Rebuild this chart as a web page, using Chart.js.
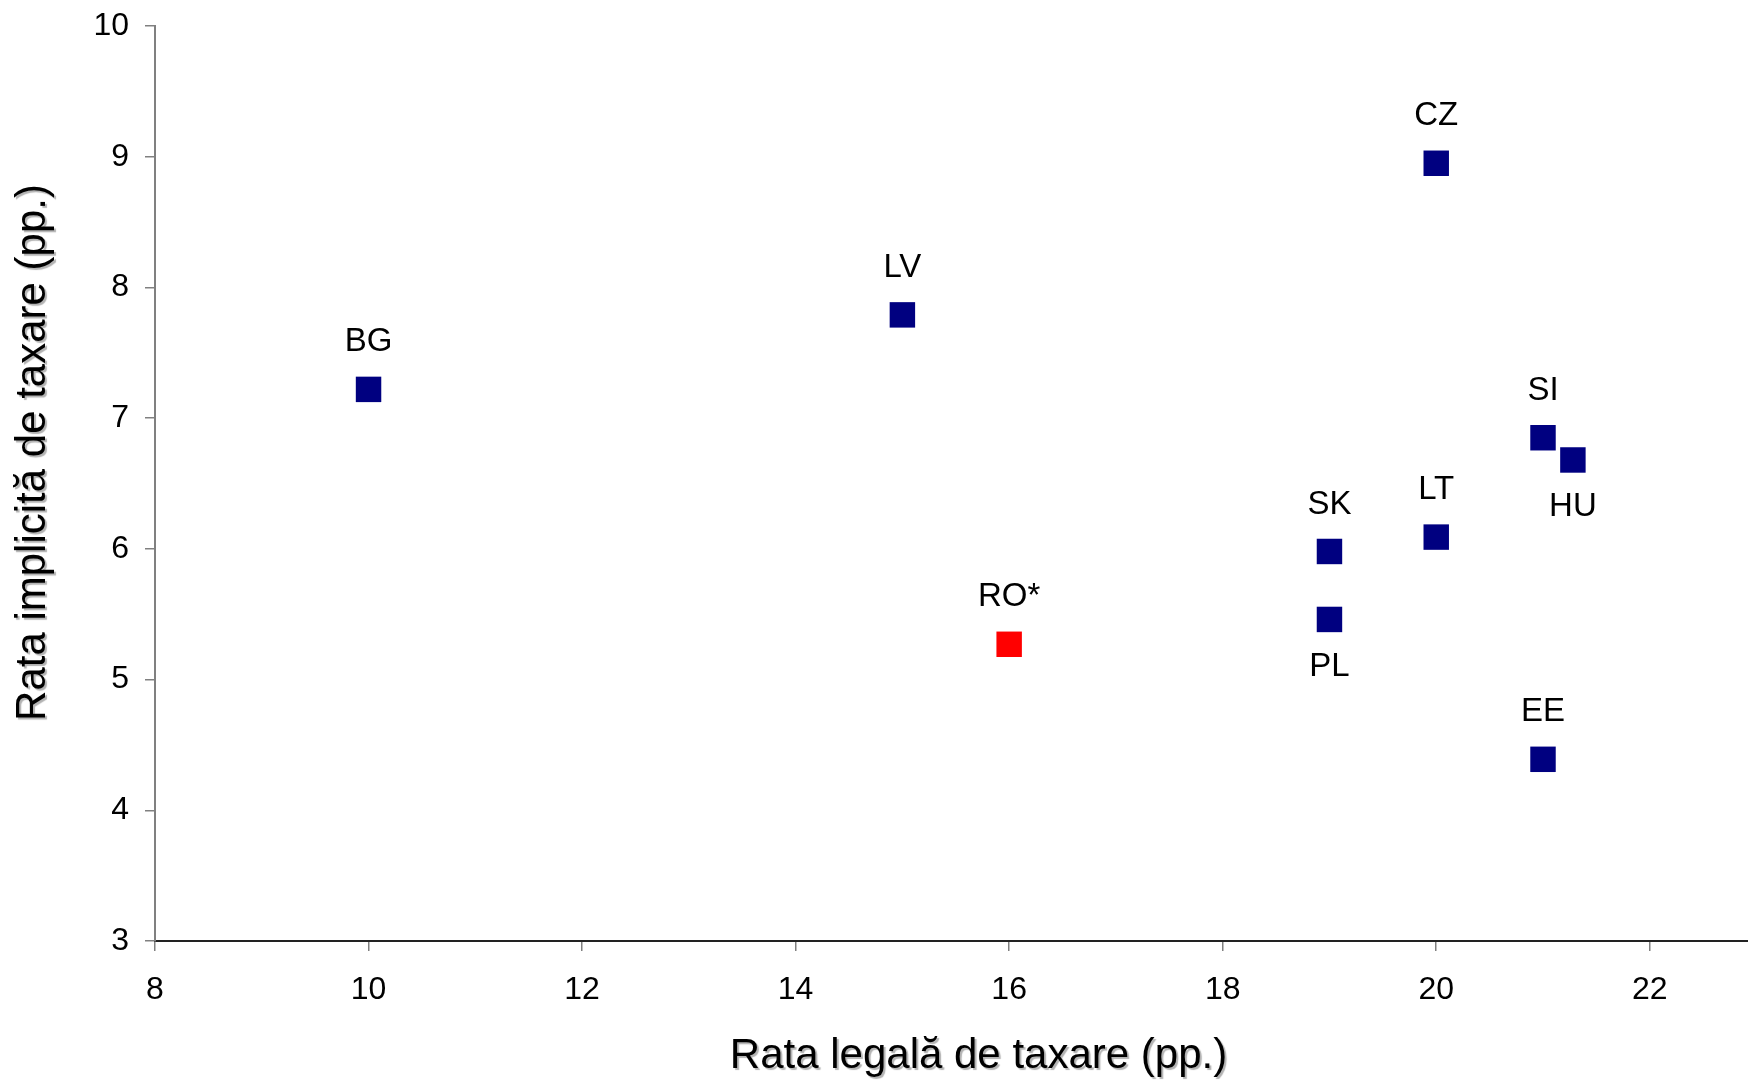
<!DOCTYPE html>
<html>
<head>
<meta charset="utf-8">
<script src="https://cdn.jsdelivr.net/npm/chart.js@4.4.0/dist/chart.umd.min.js"></script>
<style>
  html, body { margin: 0; padding: 0; background: #fff; overflow: hidden; }
  #box { width: 1748px; height: 1081px; position: relative; }
</style>
</head>
<body>
<div id="box"><canvas id="graph"></canvas></div>
<script>
// Date
const tari = ['BG', 'LV', 'CZ', 'RO*', 'SK', 'PL', 'LT', 'SI', 'HU', 'EE'];
const rataLegala = [10, 15, 20, 16, 19, 19, 20, 21, 21.28, 21];
const rataImplicita = [7.22, 7.79, 8.95, 5.27, 5.98, 5.46, 6.09, 6.85, 6.68, 4.39];
const xTicks = [8, 10, 12, 14, 16, 18, 20, 22];
const yTicks = [3, 4, 5, 6, 7, 8, 9, 10];
const titluX = 'Rata legală de taxare (pp.)';
const titluY = 'Rata implicită de taxare (pp.)';

// etichete sub punct
const subPunct = ['PL', 'HU'];

const puncte = tari.map((t, i) => ({ x: rataLegala[i], y: rataImplicita[i] }));
const culori = tari.map(t => t === 'RO*' ? '#FF0000' : '#000080');
const familie = '"Liberation Sans", Arial, sans-serif';

// Plugin pentru etichetele tarilor
const etichete = {
    id: 'etichete',
    afterDatasetsDraw(chart) {
        const ctx = chart.ctx;
        const meta = chart.getDatasetMeta(0);
        ctx.save();
        ctx.font = '33px ' + familie;
        ctx.fillStyle = '#000';
        ctx.textAlign = 'center';
        ctx.textBaseline = 'middle';
        meta.data.forEach((p, i) => {
            const dy = subPunct.includes(tari[i]) ? 47 : -47;
            ctx.fillText(tari[i], p.x, p.y + dy);
        });
        ctx.restore();
    }
};

// Titlurile axelor (cu umbra usoara, ca in original)
const titluri = {
    id: 'titluri',
    afterDraw(chart) {
        const ctx = chart.ctx;
        const a = chart.chartArea;
        ctx.save();
        ctx.font = '42px ' + familie;
        ctx.fillStyle = '#000';
        ctx.textAlign = 'center';
        ctx.textBaseline = 'middle';
        ctx.shadowColor = 'rgba(0,0,0,0.3)';
        ctx.shadowOffsetX = 2;
        ctx.shadowOffsetY = 2;
        ctx.shadowBlur = 1;
        ctx.fillText(titluX, (a.left + a.right) / 2 + 27, 1056);
        ctx.translate(33, (a.top + a.bottom) / 2 - 31);
        ctx.rotate(-Math.PI / 2);
        ctx.fillText(titluY, 0, 0);
        ctx.restore();
    }
};

const fontTick = { family: familie, size: 32 };

new Chart(document.getElementById('graph').getContext('2d'), {
    type: 'scatter',
    data: {
        datasets: [{
            data: puncte,
            backgroundColor: culori,
            borderColor: culori,
            borderWidth: 0,
            pointStyle: 'rect',
            pointRadius: 18,
            pointHoverRadius: 18
        }]
    },
    options: {
        responsive: true,
        maintainAspectRatio: false,
        animation: false,
        layout: { autoPadding: false, padding: { top: 26, right: 0, left: 0, bottom: 0 } },
        plugins: {
            legend: { display: false },
            tooltip: { enabled: false }
        },
        scales: {
            x: {
                type: 'linear',
                min: 8,
                max: 22.92,
                afterBuildTicks: s => { s.ticks = xTicks.map(v => ({ value: v })); },
                afterFit: s => { s.height = 140; s.paddingLeft = 0; s.paddingRight = 0; },
                grid: { drawOnChartArea: false, drawTicks: true, tickLength: 10, color: '#808080', lineWidth: 1.5 },
                border: { color: '#222', width: 2 },
                ticks: { color: '#000', font: fontTick, padding: 20, maxRotation: 0 }
            },
            y: {
                type: 'linear',
                min: 3,
                max: 10,
                afterBuildTicks: s => { s.ticks = yTicks.map(v => ({ value: v })); },
                afterFit: s => { s.width = 155; s.paddingTop = 0; s.paddingBottom = 0; },
                grid: { drawOnChartArea: false, drawTicks: true, tickLength: 10, color: '#808080', lineWidth: 1.5 },
                border: { color: '#808080', width: 2 },
                ticks: { color: '#000', font: fontTick, padding: 16 }
            }
        }
    },
    plugins: [etichete, titluri]
});
</script>
</body>
</html>
